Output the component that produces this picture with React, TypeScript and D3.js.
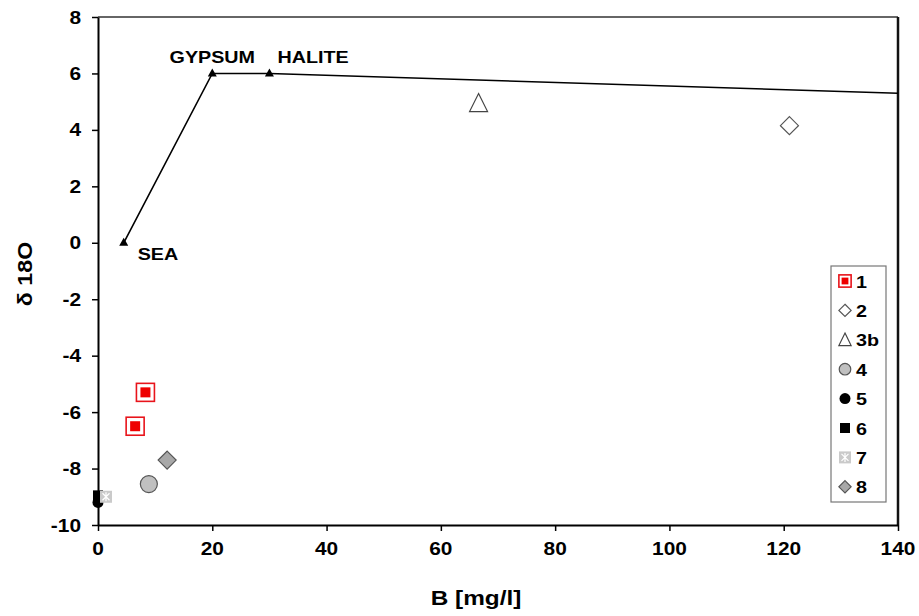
import React, { useEffect, useRef } from 'react';
import * as d3 from 'd3';

// axis ticks
const xTicks = [0, 20, 40, 60, 80, 100, 120, 140];
const yTicks = [-10, -8, -6, -4, -2, 0, 2, 4, 6, 8];

// evaporation line sea -> gypsum -> halite
const lineB = [4.5, 20, 30, 140];
const lineO = [0, 6, 6, 5.3];
const lineLabels = ['SEA', 'GYPSUM', 'HALITE', ''];

// sample groups [B, d18O]
const groupKeys = ['1', '2', '3b', '4', '5', '6', '7', '8'];
const group1 = [[8.3, -5.3], [6.5, -6.5]];
const group2 = [[121, 4.15]];
const group3b = [[66.6, 4.95]];
const group4 = [[8.9, -8.55]];
const group5 = [[0, -9.2]];
const group6 = [[0, -8.95]];
const group7 = [[1.4, -9.0]];
const group8 = [[12.1, -7.7]];
const groups = [group1, group2, group3b, group4, group5, group6, group7, group8];

const W = 919;
const H = 616;
const FONT = '"Liberation Sans", Arial, sans-serif';

const drawMarker = (g, key, cx, cy, big) => {
  const k = big ? 1 : 0.68;
  const m = g.append('g').attr('transform', `translate(${cx},${cy})`);
  const diamond = (r) => `M0,${-r}L${r},0L0,${r}L${-r},0Z`;
  if (key === '1') {
    const o = 18 * k, i = 10 * k;
    m.append('rect').attr('x', -o / 2).attr('y', -o / 2).attr('width', o).attr('height', o)
      .attr('fill', '#fff').attr('stroke', '#e8141b').attr('stroke-width', 1.6);
    m.append('rect').attr('x', -i / 2).attr('y', -i / 2).attr('width', i).attr('height', i)
      .attr('fill', '#ee0000');
  } else if (key === '2') {
    m.append('path').attr('d', diamond(9 * k)).attr('fill', '#fff').attr('stroke', '#555').attr('stroke-width', 1.2);
  } else if (key === '3b') {
    const w = 9 * k, h = 8.5 * k;
    m.append('path').attr('d', `M0,${-h - 1}L${w},${h}L${-w},${h}Z`)
      .attr('fill', '#fff').attr('stroke', '#444').attr('stroke-width', 1.2);
  } else if (key === '4') {
    m.append('circle').attr('r', 8.5 * k).attr('fill', '#c0c0c0').attr('stroke', '#555').attr('stroke-width', 1.2);
  } else if (key === '5') {
    m.append('circle').attr('r', 5.5).attr('fill', '#000');
  } else if (key === '6') {
    m.append('rect').attr('x', -5).attr('y', -5).attr('width', 10).attr('height', 10).attr('fill', '#000');
  } else if (key === '7') {
    m.append('rect').attr('x', -6).attr('y', -6).attr('width', 12).attr('height', 12).attr('fill', '#cacaca');
    const a = 3.5;
    m.append('path')
      .attr('d', `M${-a},${-a}L${a},${a}M${-a},${a}L${a},${-a}M0,${-a - 1}L0,${a + 1}`)
      .attr('stroke', '#fff').attr('stroke-width', 1.2);
  } else if (key === '8') {
    m.append('path').attr('d', diamond(9 * k)).attr('fill', '#a8a8a8').attr('stroke', '#555').attr('stroke-width', 1.2);
  }
};

// bold text, slightly wide like the original export
const label = (g, x, y, txt, size, anchor = 'middle', rotate = 0) => {
  g.append('text')
    .attr('transform', `translate(${x},${y}) rotate(${rotate}) scale(1.16,1)`)
    .attr('text-anchor', anchor)
    .attr('font-family', FONT)
    .attr('font-weight', 'bold')
    .attr('font-size', size)
    .attr('fill', '#000')
    .text(txt);
};

const App = () => {
  const svgRef = useRef(null);

  useEffect(() => {
    const svg = d3.select(svgRef.current);
    svg.selectAll('*').remove();

    const margin = { top: 17, right: 21, bottom: 91, left: 98 };
    const x = d3.scaleLinear().domain([0, 140]).range([margin.left, W - margin.right]);
    const y = d3.scaleLinear().domain([-10, 8]).range([H - margin.bottom, margin.top]);

    const g = svg.append('g');

    // plot frame (top / right)
    g.append('line').attr('x1', x(0)).attr('x2', x(140)).attr('y1', y(8)).attr('y2', y(8))
      .attr('stroke', '#333').attr('stroke-width', 1.5);
    g.append('line').attr('x1', x(140)).attr('x2', x(140)).attr('y1', y(8)).attr('y2', y(-10))
      .attr('stroke', '#111').attr('stroke-width', 2.5);

    // axes
    const xAxis = g.append('g').attr('transform', `translate(0,${y(-10)})`)
      .call(d3.axisBottom(x).tickValues(xTicks).tickSize(6).tickSizeOuter(0).tickFormat(() => ''));
    const yAxis = g.append('g').attr('transform', `translate(${x(0)},0)`)
      .call(d3.axisLeft(y).tickValues(yTicks).tickSize(6).tickSizeOuter(0).tickFormat(() => ''));
    [xAxis, yAxis].forEach(a => {
      a.select('.domain').attr('stroke', '#000').attr('stroke-width', 2);
      a.selectAll('.tick line').attr('stroke', '#000').attr('stroke-width', 1.5);
    });

    xTicks.forEach(t => label(g, x(t), y(-10) + 30, String(t), 18));
    yTicks.forEach(t => label(g, x(0) - 17, y(t) + 6.5, String(t), 18, 'end'));

    label(g, (x(0) + x(140)) / 2 - 22, 605, 'B [mg/l]', 21);
    label(g, 32, 274, 'δ 18O', 20, 'middle', -90);

    // evaporation line
    const linePts = lineB.map((b, i) => [b, lineO[i]]);
    g.append('path')
      .datum(linePts)
      .attr('fill', 'none')
      .attr('stroke', '#000')
      .attr('stroke-width', 1.6)
      .attr('d', d3.line().x(d => x(d[0])).y(d => y(d[1])));
    linePts.slice(0, 3).forEach(d => {
      g.append('path')
        .attr('transform', `translate(${x(d[0])},${y(d[1])})`)
        .attr('d', 'M0,-5L4.5,3L-4.5,3Z')
        .attr('fill', '#000');
    });
    label(g, x(lineB[0]) + 14, y(lineO[0]) + 17, lineLabels[0], 17, 'start');
    label(g, x(lineB[1]), y(lineO[1]) - 10, lineLabels[1], 17, 'middle');
    label(g, x(lineB[2]) + 8, y(lineO[2]) - 10, lineLabels[2], 17, 'start');

    // sample points
    groups.forEach((pts, i) => {
      pts.forEach(d => drawMarker(g, groupKeys[i], x(d[0]), y(d[1]), true));
    });

    // legend
    const lx = 831, lyTop = 266, lyBottom = 502, step = 29.4;
    g.append('rect').attr('x', lx).attr('y', lyTop).attr('width', 55).attr('height', lyBottom - lyTop)
      .attr('fill', '#fff').attr('stroke', '#777').attr('stroke-width', 1.2);
    groupKeys.forEach((k, i) => {
      const cy = 281 + i * step;
      drawMarker(g, k, lx + 14, cy, false);
      label(g, lx + 25, cy + 6.5, k, 17, 'start');
    });
  }, []);

  return (
    <svg
      ref={svgRef}
      width={W}
      height={H}
      style={{ position: 'absolute', left: 0, top: 0, background: '#fff' }}
    />
  );
};

export default App;
